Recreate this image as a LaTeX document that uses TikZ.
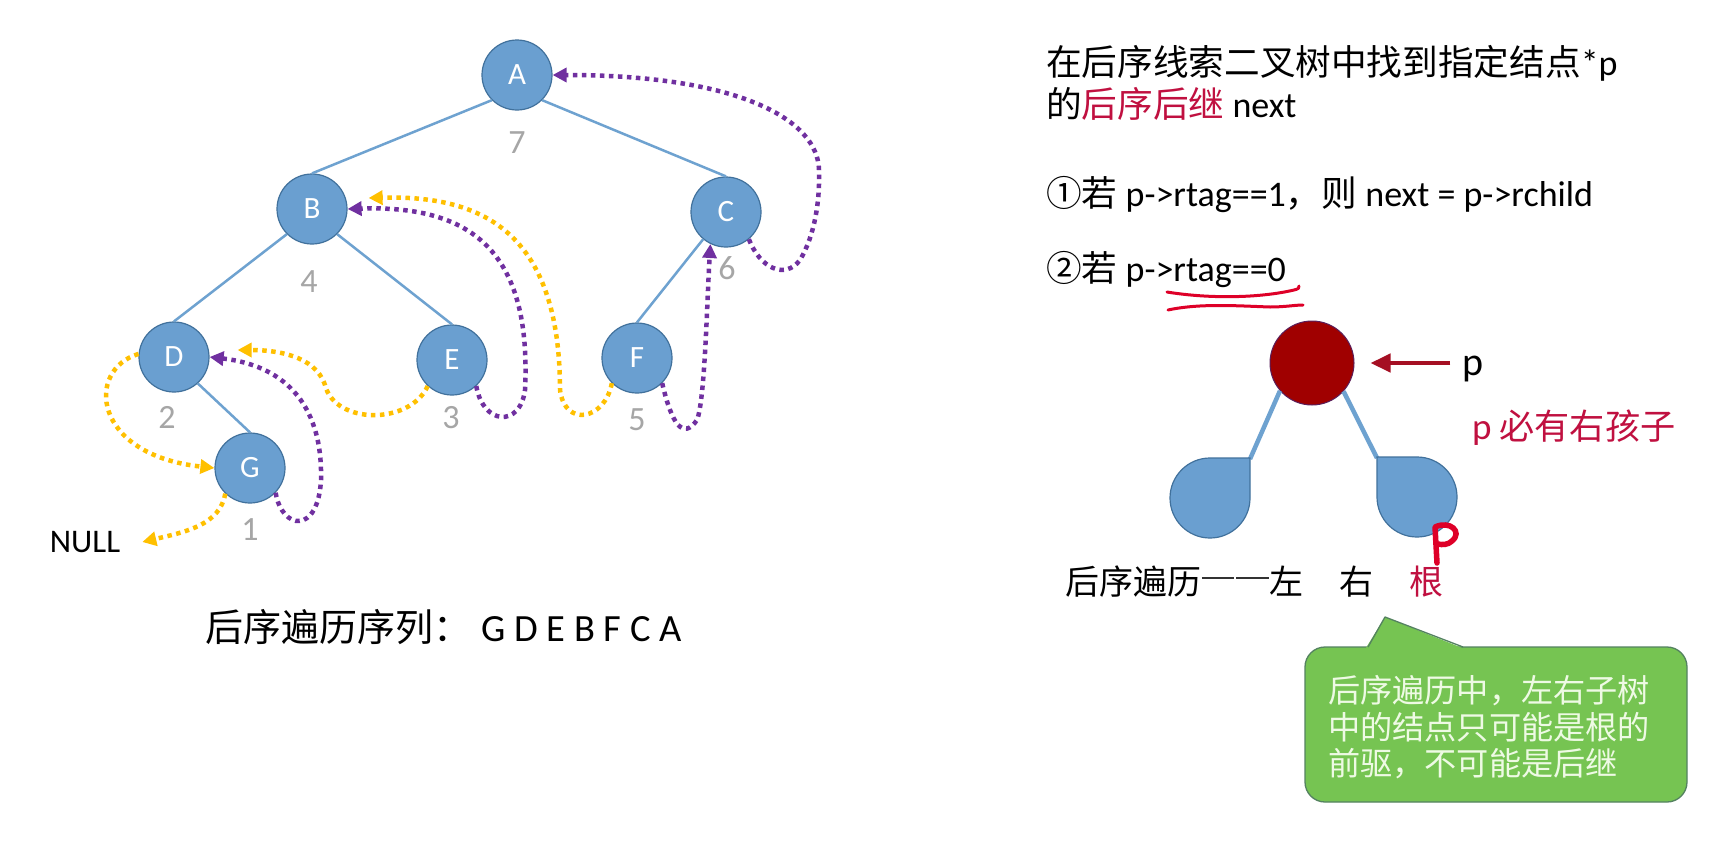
\documentclass[tikz,border=0pt]{standalone}
\usepackage{fontspec}
\setmainfont{Carlito}
\newfontfamily\cjk[Scale=0.99]{Noto Sans CJK SC}
\usetikzlibrary{arrows.meta}
\newcommand\fsz[1]{\fontsize{#1}{#1}\selectfont}
% a full-width dash, one em wide
\newcommand\widedash{\makebox[1em][c]{\rule[0.43em]{0.95em}{0.075em}}}

\definecolor{nodeblue}{RGB}{106,159,208}
\definecolor{nodeedge}{RGB}{65,113,156}
\definecolor{treeline}{RGB}{110,162,208}
\definecolor{threadpurple}{RGB}{112,48,160}
\definecolor{threadgold}{RGB}{255,192,0}
\definecolor{numgray}{RGB}{166,166,166}
\definecolor{accent}{RGB}{192,16,64}
\definecolor{inkred}{RGB}{222,0,40}
\definecolor{rootred}{RGB}{160,0,0}
\definecolor{rootedge}{RGB}{90,30,90}
\definecolor{arrowred}{RGB}{165,15,35}
\definecolor{calloutgreen}{RGB}{118,196,82}
\definecolor{calloutedge}{RGB}{84,130,96}
\definecolor{callouttext}{RGB}{238,250,228}
\definecolor{dashgray}{RGB}{50,50,50}

\tikzset{
  tnode/.style={circle, minimum size=70pt, inner sep=0pt, fill=nodeblue,
    draw=nodeedge, line width=1.2pt, text=white, font=\fsz{31}},
  num/.style={text=numgray, font=\fsz{34}, inner sep=0pt},
  tedge/.style={draw=treeline, line width=2.5pt},
  pthread/.style={draw=threadpurple, line width=4.5pt,
    dash pattern=on 4.5pt off 4.5pt, -{Triangle[length=14pt,width=14pt]}},
  gthread/.style={draw=threadgold, line width=4.5pt,
    dash pattern=on 4.5pt off 4.5pt, -{Triangle[length=14pt,width=14pt]}},
  txt/.style={anchor=base west, inner sep=0pt},
  blob/.style={fill=nodeblue, draw=nodeedge, line width=1.2pt},
  ink/.style={draw=inkred, line width=3pt, line cap=round, line join=round},
}

\begin{document}
\begin{tikzpicture}[x=1pt, y=-1pt]
\useasboundingbox (0,0) rectangle (1719,841);
\fill[white] (0,0) rectangle (1719,841);

% ---------- post-order threaded binary tree ----------
\node[tnode] (A) at (517,75) {A};
\node[tnode] (B) at (312,209) {B};
\node[tnode] (C) at (726,212) {C};
\node[tnode] (D) at (174,357) {D};
\node[tnode] (E) at (452,360) {E};
\node[tnode] (F) at (637,358) {F};
\node[tnode] (G) at (250,468) {G};

\draw[tedge] (A.-135) -- (B.north);
\draw[tedge] (A.-45) -- (C.north);
\draw[tedge] (B.-135) -- (D.north);
\draw[tedge] (B.-45) -- (E.north);
\draw[tedge] (C.-130) -- (F.north);
\draw[tedge] (D.-48) -- (G.north);

% visiting order
\node[num] (n7) at (517,143) {7};
\node[num] (n4) at (309,282) {4};
\node[num] (n2) at (167,417) {2};
\node[num] (n3) at (451,418) {3};
\node[num] (n5) at (637,420) {5};
\node[num] (n6) at (727,268) {6};
\node[num] (n1) at (250,530) {1};

\node[font=\fsz{33}, inner sep=0pt] (null) at (85,542) {NULL};

% predecessor threads (gold)
\draw[gthread] (G.-134) .. controls (220,525) and (185,532) .. ([xshift=22pt]null.east);
\draw[gthread] (D.175) .. controls (85,370) and (92,455) .. (G.west);
\draw[gthread] (E.-133) .. controls (410,425) and (335,425) .. (325,385)
  .. controls (315,355) and (275,350) .. ([xshift=28pt,yshift=7pt]D.east);
\draw[gthread] (F.-135) .. controls (605,420) and (565,428) .. (560,390)
  .. controls (560,230) and (480,195) .. ([xshift=21pt,yshift=11pt]B.east);

% successor threads (purple)
\draw[pthread] (G.-44) .. controls (282,530) and (318,535) .. (321,480)
  .. controls (323,400) and (280,365) .. (D.east);
\draw[pthread] (E.-47) .. controls (483,425) and (520,428) .. (525,390)
  .. controls (532,250) and (470,205) .. (B.east);
\draw[pthread] (F.-45) .. controls (672,425) and (683,440) .. (697,420)
  .. controls (705,400) and (707,300) .. (C.-116);
\draw[pthread] (C.-50) .. controls (760,268) and (785,280) .. (800,260)
  .. controls (815,235) and (820,200) .. (819,170)
  .. controls (818,120) and (740,75) .. (A.east);

\node[txt, font=\fsz{38.4}] (seq) at (205,641)
  {{\cjk 后序遍历序列：}\hspace*{10pt}{\fsz{38.5}G D E B F C A}};

% ---------- right column ----------
\node[txt, font=\fsz{36}] (t1) at (1046,75) {{\cjk 在后序线索二叉树中找到指定结点}*p};
\node[txt, font=\fsz{36}] (t2) at (1046,117) {{\cjk 的}\textcolor{accent}{\cjk 后序后继} next};
\node[txt, font=\fsz{36}] (t3) at (1046,206) {{\cjk ①若} p->rtag==1{\cjk ，则} next = p->rchild};
\node[txt, font=\fsz{36}] (t4) at (1046,281) {{\cjk ②若} p->rtag==0};

% hand-drawn double underline
\draw[ink] (1167,292) .. controls (1210,299) and (1260,298) .. (1294,290)
  .. controls (1298,289) and (1300,288) .. (1299,286);
\draw[ink] (1168,310) .. controls (1200,303) and (1240,306) .. (1270,307)
  .. controls (1285,307) and (1295,305) .. (1303,305);

% node p with its two subtrees
\node[circle, minimum size=84pt, inner sep=0pt, fill=rootred, draw=rootedge,
  line width=1pt] (pnode) at (1312,363) {};
\coordinate (lc) at (1250,459);
\coordinate (rc) at (1377,458);
\draw[draw=treeline, line width=4.5pt] (pnode.-139) -- (lc);
\draw[draw=treeline, line width=4.5pt] (pnode.-42) -- (rc);
\path[blob] (1250,458) -- (1250,498) .. controls (1250,520.1) and (1232.1,538) .. (1210,538)
  .. controls (1187.9,538) and (1170,520.1) .. (1170,498)
  .. controls (1170,475.9) and (1187.9,458) .. (1210,458) -- cycle;
\path[blob] (1377,457) -- (1417,457) .. controls (1439.1,457) and (1457,474.9) .. (1457,497)
  .. controls (1457,519.1) and (1439.1,537) .. (1417,537)
  .. controls (1394.9,537) and (1377,519.1) .. (1377,497) -- cycle;

\node[anchor=base, inner sep=0pt, font=\fsz{40}] (plabel) at (1473,375) {p};
\draw[draw=arrowred, line width=4.5pt, -{Triangle[length=20pt,width=18pt]},
  shorten <=12pt, shorten >=16pt] (plabel.west |- pnode.east) -- (pnode.east);

\node[txt, font=\fsz{35.5}, text=accent] (must) at (1472,439) {{\fsz{37}p} {\cjk 必有右孩子}};

% hand-written P
\draw[ink, line width=5.5pt] (1437,563) -- (1435,527)
  .. controls (1450,520) and (1463,532) .. (1452,541)
  .. controls (1448,545) and (1442,545) .. (1438,544);

\node[txt, font=\fsz{34.3}] (order) at (1065,594)
  {{\cjk 后序遍历}{\color{dashgray}\widedash\widedash}{\cjk 左}\hspace*{36pt}{\cjk 右}\hspace*{36pt}\textcolor{accent}{\cjk 根}};

% ---------- callout ----------
\path[fill=calloutgreen, draw=calloutedge, line width=1.3pt, rounded corners=20pt]
  (1305,647) rectangle (1687,802);
\fill[calloutgreen] (1365,649.5) -- (1385,617) -- (1466,649.5) -- cycle;
\draw[calloutedge, line width=1.3pt, line join=round] (1368,647) -- (1385,617) -- (1463,647);
\node[txt, font=\fsz{32.5}, text=callouttext] (note1) at (1328,702) {\cjk 后序遍历中，左右子树};
\node[txt, font=\fsz{32.5}, text=callouttext] (note2) at (1328,739) {\cjk 中的结点只可能是根的};
\node[txt, font=\fsz{32.5}, text=callouttext] (note3) at (1328,775) {\cjk 前驱，不可能是后继};
\end{tikzpicture}
\end{document}
